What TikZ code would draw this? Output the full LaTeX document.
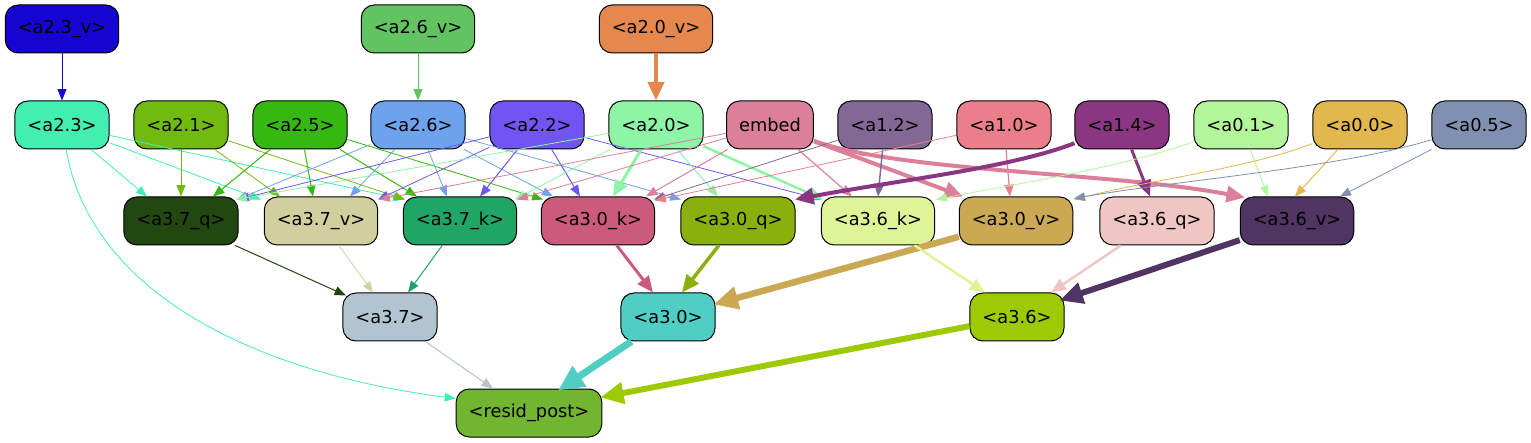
\documentclass[tikz,border=0pt]{standalone}
\usepackage{fontspec}
\setmainfont{DejaVu Sans}
\usetikzlibrary{arrows.meta}
\definecolor{c23v}{HTML}{1604D0}
\definecolor{c26v}{HTML}{62C460}
\definecolor{c20v}{HTML}{E6874D}
\definecolor{c23}{HTML}{43EEB2}
\definecolor{c21}{HTML}{72BA10}
\definecolor{c25}{HTML}{35B812}
\definecolor{c26}{HTML}{6CA3EC}
\definecolor{c22}{HTML}{7055F3}
\definecolor{c20}{HTML}{8EF5A7}
\definecolor{cemb}{HTML}{DB7F9A}
\definecolor{c12}{HTML}{836896}
\definecolor{c10}{HTML}{EB7E8A}
\definecolor{c14}{HTML}{8A3682}
\definecolor{c01}{HTML}{B2F59A}
\definecolor{c00}{HTML}{E2B84E}
\definecolor{c05}{HTML}{7F90B0}
\definecolor{cq37}{HTML}{234711}
\definecolor{cv37}{HTML}{D2CF9F}
\definecolor{ck37}{HTML}{21A566}
\definecolor{ck30}{HTML}{CB5A7D}
\definecolor{cq30}{HTML}{8AB00D}
\definecolor{ck36}{HTML}{DFF497}
\definecolor{cv30}{HTML}{CBA853}
\definecolor{cq36}{HTML}{F0C6C4}
\definecolor{cv36}{HTML}{503462}
\definecolor{c37}{HTML}{B2C4D0}
\definecolor{c30}{HTML}{50CEC6}
\definecolor{c36}{HTML}{9CCA04}
\definecolor{cres}{HTML}{71B530}
\begin{document}
\begin{tikzpicture}[x=1pt,y=-1pt,
  box/.style={draw=black, line width=1pt, rounded corners=13pt, minimum height=48pt,
    inner xsep=12.5pt, inner ysep=0pt, text=black, font=\fontsize{17.8}{20}\selectfont},
  e/.style={-{Triangle[length=9pt 2.4,width=6.5pt 2.4]}, line width=0.8pt},
  lw/.style={line width=#1pt}]
\useasboundingbox (0,0) rectangle (1531,443);
% row 1
\node[box,fill=c23v] (n23v) at (62,29) {<a2.3\_v>};
\node[box,fill=c26v] (n26v) at (418,29) {<a2.6\_v>};
\node[box,fill=c20v] (n20v) at (656,29) {<a2.0\_v>};
% row 2
\node[box,fill=c23] (n23) at (62,125) {<a2.3>};
\node[box,fill=c21] (n21) at (181,125) {<a2.1>};
\node[box,fill=c25] (n25) at (300,125) {<a2.5>};
\node[box,fill=c26] (n26) at (418,125) {<a2.6>};
\node[box,fill=c22] (n22) at (537,125) {<a2.2>};
\node[box,fill=c20] (n20) at (656,125) {<a2.0>};
\node[box,fill=cemb] (nemb) at (770,125) {embed};
\node[box,fill=c12] (n12) at (885,125) {<a1.2>};
\node[box,fill=c10] (n10) at (1004,125) {<a1.0>};
\node[box,fill=c14] (n14) at (1122,125) {<a1.4>};
\node[box,fill=c01] (n01) at (1241,125) {<a0.1>};
\node[box,fill=c00] (n00) at (1360,125) {<a0.0>};
\node[box,fill=c05] (n05) at (1479,125) {<a0.5>};
% row 3
\node[box,fill=cq37] (q37) at (181,221) {<a3.7\_q>};
\node[box,fill=cv37] (v37) at (321,221) {<a3.7\_v>};
\node[box,fill=ck37] (k37) at (460,221) {<a3.7\_k>};
\node[box,fill=ck30] (k30) at (598,221) {<a3.0\_k>};
\node[box,fill=cq30] (q30) at (738,221) {<a3.0\_q>};
\node[box,fill=ck36] (k36) at (878,221) {<a3.6\_k>};
\node[box,fill=cv30] (v30) at (1016,221) {<a3.0\_v>};
\node[box,fill=cq36] (q36) at (1157,221) {<a3.6\_q>};
\node[box,fill=cv36] (v36) at (1297,221) {<a3.6\_v>};
% row 4
\node[box,fill=c37] (n37) at (390,317) {<a3.7>};
\node[box,fill=c30] (n30) at (668,317) {<a3.0>};
\node[box,fill=c36] (n36) at (1017,317) {<a3.6>};
% row 5
\node[box,fill=cres] (res) at (529,413) {<resid\_post>};

% row 1 -> row 2
\draw[e,c23v,lw=1] (n23v) -- (n23);
\draw[e,c26v,lw=1] (n26v) -- (n26);
\draw[e,c20v,lw=4] (n20v) -- (n20);

% a2.3
\draw[e,c23] (n23) -- ([xshift=-34pt]q37.north);
\draw[e,c23] (n23) -- ([xshift=-60pt,yshift=-3pt]v37.north);
\draw[e,c23] (n23) -- ([xshift=-56pt,yshift=-3pt]k37.north);
\draw[e,c23] (n23) .. controls (90,290) and (250,372) .. ([yshift=-10pt]res.north west);
% a2.1
\draw[e,c21,lw=1] (n21) -- ([xshift=0pt]q37.north);
\draw[e,c21] (n21) -- ([xshift=-41pt]v37.north);
\draw[e,c21] (n21) -- ([xshift=-55pt,yshift=-3pt]k37.north);
% a2.5
\draw[e,c25,lw=1] (n25) -- ([xshift=32pt]q37.north);
\draw[e,c25,lw=1] (n25) -- ([xshift=-8pt]v37.north);
\draw[e,c25,lw=1] (n25) -- ([xshift=-43pt]k37.north);
\draw[e,c25] (n25) -- ([xshift=-55pt,yshift=-3pt]k30.north);
% a2.6
\draw[e,c26] (n26) -- ([xshift=56pt,yshift=-3pt]q37.north);
\draw[e,c26] (n26) -- ([xshift=29pt]v37.north);
\draw[e,c26] (n26) -- ([xshift=-13pt]k37.north);
\draw[e,c26] (n26) -- ([xshift=-45pt]k30.north);
\draw[e,c26] (n26) -- ([xshift=-57pt,yshift=-3pt]q30.north);
% a2.2
\draw[e,c22] (n22) -- ([xshift=57pt,yshift=-3pt]q37.north);
\draw[e,c22] (n22) -- ([xshift=57pt,yshift=-3pt]v37.north);
\draw[e,c22,lw=1] (n22) -- ([xshift=20pt]k37.north);
\draw[e,c22,lw=1] (n22) -- ([xshift=-18pt]k30.north);
\draw[e,c22] (n22) -- ([xshift=-57pt,yshift=-3pt]k36.north);
% a2.0
\draw[e,c20] (n20) -- ([xshift=55pt,yshift=-3pt]q37.north);
\draw[e,c20] (n20) -- ([xshift=55pt,yshift=-3pt]k37.north);
\draw[e,c20,lw=3] (n20) -- ([xshift=15pt]k30.north);
\draw[e,c20,lw=1] (n20) -- ([xshift=-20pt]q30.north);
\draw[e,c20,lw=2.5] (n20) -- ([xshift=-55pt,yshift=-3pt]k36.north);
% embed
\draw[e,cemb] (nemb) -- ([xshift=58pt,yshift=-3pt]v37.north);
\draw[e,cemb] (nemb) -- ([xshift=57pt,yshift=-3pt]k37.north);
\draw[e,cemb,lw=1] (nemb) -- ([xshift=48pt]k30.north);
\draw[e,cemb,lw=1.2] (nemb) -- ([xshift=-26pt]k36.north);
\draw[e,cemb,lw=4] (nemb) -- ([xshift=-53pt]v30.north);
\draw[e,cemb,lw=4] (nemb) .. controls (900,172) and (1110,172) .. ([xshift=-52pt,yshift=-1pt]v36.north);
% a1.2
\draw[e,c12] (n12) -- ([xshift=56pt,yshift=-3pt]k30.north);
\draw[e,c12,lw=1.5] (n12) -- ([xshift=0pt]k36.north);
% a1.0
\draw[e,c10] (n10) -- ([xshift=57pt,yshift=-4pt]k30.north);
\draw[e,c10,lw=1.2] (n10) -- ([xshift=-6pt]v30.north);
% a1.4
\draw[e,c14,lw=4] (n14) .. controls (1010,168) and (900,180) .. ([xshift=57pt,yshift=-3pt]q30.north);
\draw[e,c14,lw=3] (n14) -- ([xshift=-7pt]q36.north);
% a0.1
\draw[e,c01] (n01) .. controls (1120,168) and (1010,185) .. ([xshift=58pt,yshift=-3pt]k36.north);
\draw[e,c01] (n01) -- ([xshift=-29pt]v36.north);
% a0.0
\draw[e,c00] (n00) .. controls (1250,168) and (1150,180) .. ([xshift=58pt,yshift=-3pt]v30.north);
\draw[e,c00,lw=1] (n00) -- ([xshift=-2pt]v36.north);
% a0.5
\draw[e,c05] (n05) .. controls (1340,168) and (1180,180) .. ([xshift=58pt,yshift=-2pt]v30.north);
\draw[e,c05] (n05) -- ([xshift=43pt]v36.north);

% row 3 -> row 4
\draw[e,cq37,lw=1] (q37) -- ([xshift=-44pt,yshift=-3pt]n37.north);
\draw[e,cv37] (v37) -- ([xshift=-17pt]n37.north);
\draw[e,ck37,lw=1] (k37) -- ([xshift=18pt]n37.north);
\draw[e,ck30,lw=3] (k30) -- ([xshift=-15pt]n30.north);
\draw[e,cq30,lw=3.5] (q30) -- ([xshift=14pt]n30.north);
\draw[e,cv30,lw=6.5] (v30) -- ([xshift=-2pt,yshift=-12pt]n30.north east);
\draw[e,ck36,lw=2.5] (k36) -- ([xshift=-32pt]n36.north);
\draw[e,cq36,lw=2.5] (q36) -- ([xshift=34pt]n36.north);
\draw[e,cv36,lw=6] (v36) -- ([xshift=-5pt,yshift=-8pt]n36.north east);

% row 4 -> resid
\draw[e,c37,lw=1] (n37) -- ([xshift=-36pt]res.north);
\draw[e,c30,lw=7] (n30) -- ([xshift=29pt,yshift=-2pt]res.north);
\draw[e,c36,lw=6] (n36) -- ([xshift=-2pt,yshift=-9pt]res.north east);
\end{tikzpicture}
\end{document}
